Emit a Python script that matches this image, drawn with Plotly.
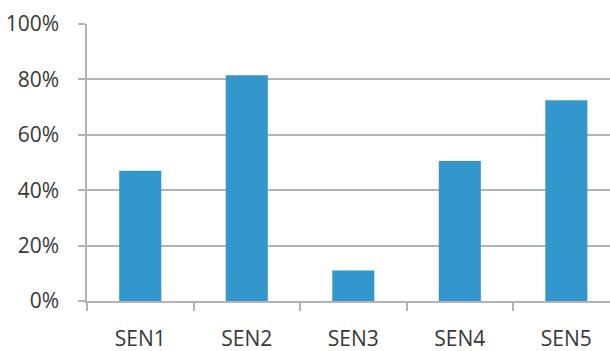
import plotly.graph_objects as go

categories = ["SEN1", "SEN2", "SEN3", "SEN4", "SEN5"]
values = [0.47, 0.815, 0.11, 0.505, 0.725]
y_ticks = [0, 0.2, 0.4, 0.6, 0.8, 1.0]
y_tick_labels = ["0%", "20%", "40%", "60%", "80%", "100%"]

fig = go.Figure(go.Bar(
    x=categories, y=values,
    marker=dict(color="#3396CC", line=dict(width=0)),
    width=0.395,
))

grid = "#b4b4b4"
fig.update_layout(
    width=610, height=351,
    margin=dict(l=87, r=0, t=24, b=50),
    paper_bgcolor="white", plot_bgcolor="white",
    font=dict(family="Open Sans", size=21, color="#383838"),
    showlegend=False,
)
fig.update_xaxes(
    type="category",
    range=[-0.5, 4.41],
    tickson="boundaries",
    ticks="outside", ticklen=8, tickwidth=1.5, tickcolor=grid,
    showline=True, linecolor=grid, linewidth=2,
    showgrid=False,
    ticklabelstandoff=18,
    automargin=False,
)
fig.update_yaxes(
    range=[0, 1.0],
    tickvals=y_ticks, ticktext=y_tick_labels,
    ticks="outside", ticklen=7, tickwidth=1.5, tickcolor=grid,
    showline=True, linecolor=grid, linewidth=1.5,
    showgrid=True, gridcolor=grid, gridwidth=2,
    zeroline=False,
    ticklabelstandoff=15,
    automargin=False,
)

fig.write_html("out.html")
